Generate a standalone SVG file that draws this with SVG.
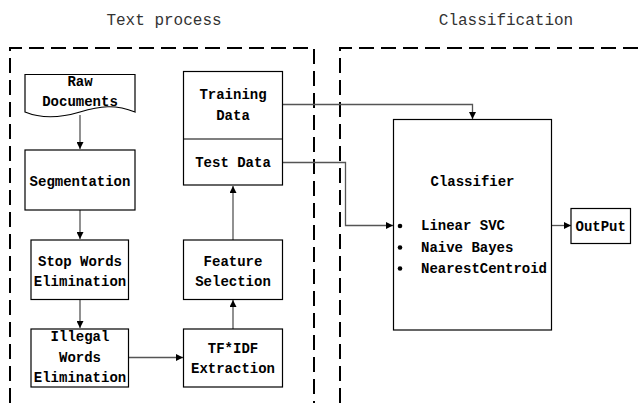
<svg xmlns="http://www.w3.org/2000/svg" width="642" height="403" viewBox="0 0 642 403">
<defs>
<style>
.box{fill:#fff;stroke:#000;stroke-width:1.2}
.t{font-family:"Liberation Mono",monospace;font-size:14px;font-weight:bold;fill:#000;text-anchor:middle}
.tl{font-family:"Liberation Mono",monospace;font-size:14px;font-weight:bold;fill:#000}
.title{font-family:"Liberation Mono",monospace;font-size:16px;fill:#333;text-anchor:middle}
.dash{fill:none;stroke:#000;stroke-width:2;stroke-dasharray:15 7}
.c{fill:none;stroke:#555;stroke-width:1.3}
</style>
<marker id="ah" viewBox="0 0 10 10" refX="10" refY="5" markerWidth="7" markerHeight="7" markerUnits="userSpaceOnUse" orient="auto">
<path d="M0,0 L10,5 L0,10 z" fill="#000"/>
</marker>
</defs>
<rect width="642" height="403" fill="#fff"/>
<g id="regions">
<path class="dash" d="M10,403 V48 H314 V403"/>
<path class="dash" d="M340,403 V48 H642"/>
<text class="title" x="164" y="25">Text process</text>
<text class="title" x="506" y="25">Classification</text>
</g>
<g id="connectors">
<path class="c" d="M80,115 V149" marker-end="url(#ah)"/>
<path class="c" d="M80,210 V239" marker-end="url(#ah)"/>
<path class="c" d="M80,299 V328" marker-end="url(#ah)"/>
<path class="c" d="M129,357.5 H183" marker-end="url(#ah)"/>
<path class="c" d="M233,329 V300" marker-end="url(#ah)"/>
<path class="c" d="M233,240 V186" marker-end="url(#ah)"/>
<path class="c" d="M282,104.5 H472.5 V119" marker-end="url(#ah)"/>
<path class="c" d="M282,162.5 H345.5 V225.5 H393" marker-end="url(#ah)"/>
<path class="c" d="M551.5,225.5 H571" marker-end="url(#ah)"/>
</g>
<g id="raw-documents">
<path class="box" d="M25,74.5 H135 V112 C115,104 100,106 80,112 C60,118 42,119 25,112 Z"/>
<text class="t" x="80" y="86">Raw</text>
<text class="t" x="80" y="106">Documents</text>
</g>
<g id="segmentation">
<rect class="box" x="25" y="150" width="110" height="60"/>
<text class="t" x="80" y="186">Segmentation</text>
</g>
<g id="stop-words">
<rect class="box" x="31" y="240" width="97.5" height="59.5"/>
<text class="t" x="80" y="265.5">Stop Words</text>
<text class="t" x="80" y="286">Elimination</text>
</g>
<g id="illegal-words">
<rect class="box" x="31" y="329" width="97.5" height="58"/>
<text class="t" x="80" y="341">Illegal</text>
<text class="t" x="80" y="361.5">Words</text>
<text class="t" x="80" y="381.5">Elimination</text>
</g>
<g id="tfidf">
<rect class="box" x="183.5" y="329" width="99" height="58"/>
<text class="t" x="233" y="353">TF*IDF</text>
<text class="t" x="233" y="373">Extraction</text>
</g>
<g id="feature-selection">
<rect class="box" x="183.5" y="240" width="99" height="59.5"/>
<text class="t" x="233" y="265.5">Feature</text>
<text class="t" x="233" y="286">Selection</text>
</g>
<g id="data">
<rect class="box" x="183.5" y="71.5" width="99" height="113.5"/>
<line x1="183.5" y1="139" x2="282.5" y2="139" stroke="#000" stroke-width="1.2"/>
<text class="t" x="233" y="99">Training</text>
<text class="t" x="233" y="120">Data</text>
<text class="t" x="233" y="167">Test Data</text>
</g>
<g id="classifier">
<rect class="box" x="393.5" y="119.5" width="158" height="210.5"/>
<text class="t" x="472.5" y="186">Classifier</text>
<circle cx="400" cy="226" r="2.3" fill="#000"/>
<circle cx="400" cy="247.5" r="2.3" fill="#000"/>
<circle cx="400" cy="268.5" r="2.3" fill="#000"/>
<text class="tl" x="421" y="230">Linear SVC</text>
<text class="tl" x="421" y="251.5">Naive Bayes</text>
<text class="tl" x="421" y="272.5">NearestCentroid</text>
</g>
<g id="output">
<rect class="box" x="571" y="208.5" width="59.5" height="35"/>
<text class="t" x="600.7" y="230.5">OutPut</text>
</g>
</svg>
